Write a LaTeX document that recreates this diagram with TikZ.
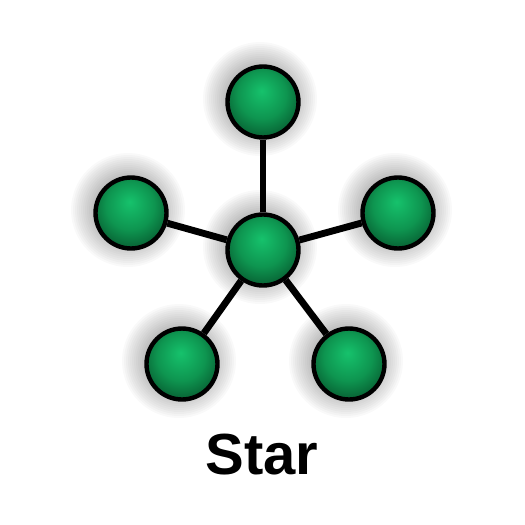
\documentclass[tikz,border=0pt]{standalone}
\usepackage{fontspec}
\newfontfamily\titlefont{Liberation Sans}
\usetikzlibrary{positioning,backgrounds}

\definecolor{hubhi}{HTML}{16C26C}
\definecolor{hubmid}{HTML}{0E9550}
\definecolor{hublo}{HTML}{06562D}
\pgfdeclareradialshading{hubshade}{\pgfpoint{-1bp}{8bp}}{%
  color(0bp)=(hubhi); color(17bp)=(hubmid); color(31bp)=(hublo); color(50bp)=(hublo)}

\begin{document}
\begin{tikzpicture}[
        x=0.02cm, y=-0.02cm,
        host/.style={circle, draw=black, line width=2.5pt, shading=hubshade, minimum size=1.42cm, inner sep=0pt},
        link/.style={line width=3.9pt, draw=black}
    ]
        \useasboundingbox (0,0) rectangle (525,525);

        % Nodes
        \node[host] (hub) at (263,250) {};
        \node[host] (top) at (263,102) {};
        \node[host] (left) at (131,213) {};
        \node[host] (right) at (398,213) {};
        \node[host] (botleft) at (182,364) {};
        \node[host] (botright) at (349,364) {};

        % Shadows and links
        \begin{scope}[on background layer]
            \foreach \n in {hub,top,left,right,botleft,botright}
                \foreach \k in {1,...,12}
                    \fill[black, opacity=0.022] ([xshift=-0.06cm, yshift=0.06cm]\n.center) circle ({0.66cm+\k*0.04cm});
            \foreach \n in {top,left,right,botleft,botright}
                \draw[link] (hub) -- (\n);
        \end{scope}

        % Title
        \node[font=\titlefont\bfseries\fontsize{33}{40}\selectfont] (title) at (262,455) {Star};
    \end{tikzpicture}
\end{document}
